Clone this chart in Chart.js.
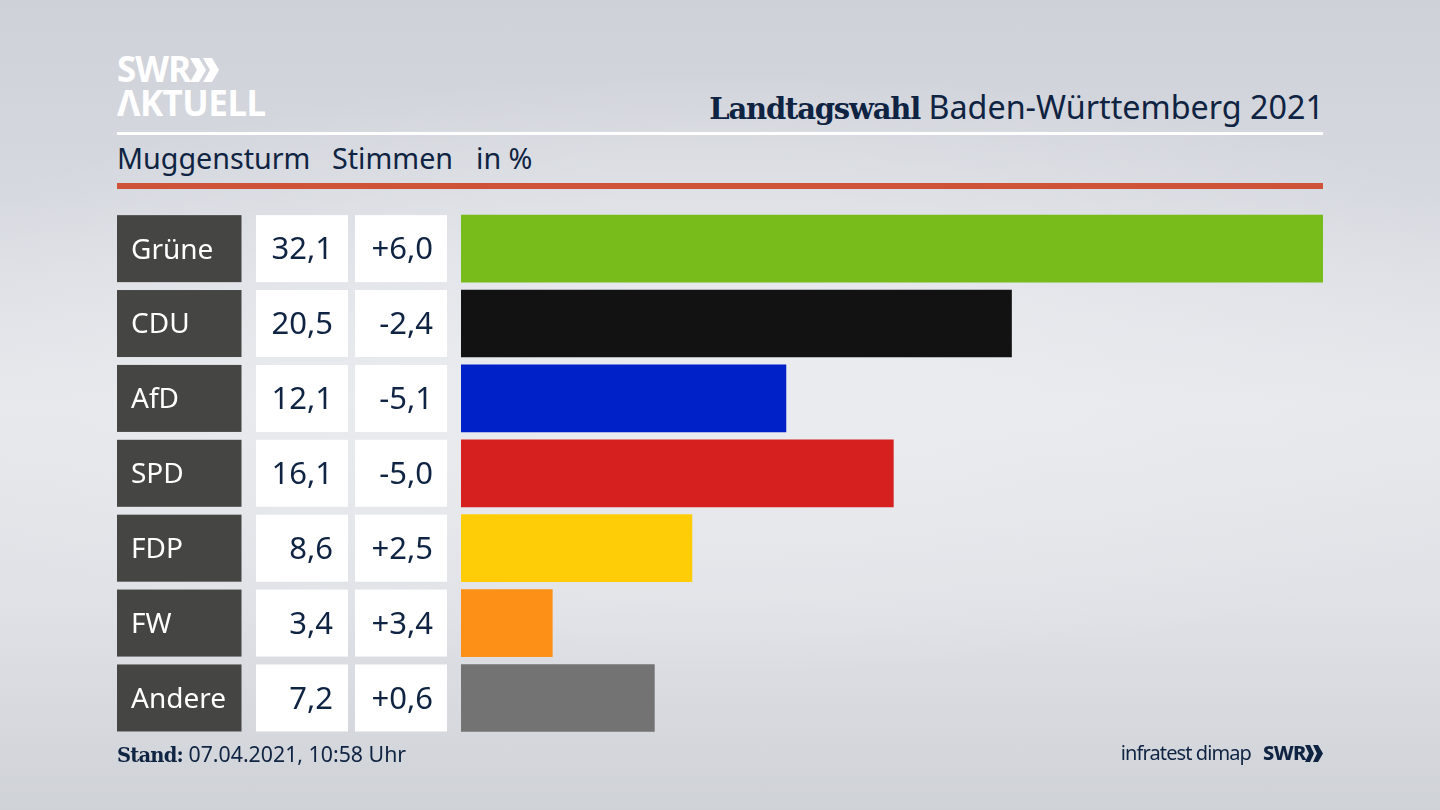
<!DOCTYPE html>
<html lang="de">
<head>
<meta charset="utf-8">
<title>Landtagswahl Baden-Württemberg 2021</title>
<script src="https://cdn.jsdelivr.net/npm/chart.js@4"></script>
<style>
  html, body { margin: 0; padding: 0; }
  body {
    width: 1440px; height: 810px; overflow: hidden; position: relative;
    font-family: "Noto Sans", sans-serif; color: #0f2342;
    background:
      radial-gradient(ellipse 900px 300px at 50% 46%, #eaecf0 0%, rgba(234,236,240,0) 100%),
      linear-gradient(180deg, #ced1d7 0%, #d6d9df 25%, #e6e8ec 50%, #dfe1e6 75%, #cfd2d7 100%);
  }
  #wrap { position: absolute; left: 0; top: 0; width: 1440px; height: 810px; }
  .t { position: absolute; white-space: nowrap; line-height: 1; }
  .rule { position: absolute; left: 117px; width: 1206px; }
  .logo { color: #fff; font-weight: 700; }
</style>
</head>
<body>
<div class="t logo" style="left:117px;top:51px;font-size:35px;letter-spacing:-1px">SWR</div>
<svg style="position:absolute;left:190px;top:57px" width="30" height="26" viewBox="0 0 30 26">
  <path d="M0 1h9l7 12-7 12H0l7-12zM13 1h9l7 12-7 12h-9l7-12z" fill="#fff"/>
</svg>
<div class="t logo" style="left:117px;top:85px;font-size:35px;letter-spacing:-.5px">&#923;KTUELL</div>

<div class="t" style="right:116px;top:90px;font-size:32.300px"><span style="font-family:'DejaVu Serif',serif;font-weight:700;font-size:29px;letter-spacing:-1.200px">Landtagswahl</span> Baden-Württemberg 2021</div>
<div class="rule" style="top:132px;height:3px;background:#fff"></div>
<div class="t" style="left:117px;top:144px;font-size:28.700px">Muggensturm</div>
<div class="t" style="left:332px;top:144px;font-size:28.700px">Stimmen</div>
<div class="t" style="left:476px;top:144px;font-size:28.700px">in %</div>
<div class="rule" style="top:183px;height:6px;background:#cf5339"></div>

<div id="wrap"><canvas id="resultChart" width="1440" height="810"></canvas></div>

<div class="t" style="left:117px;top:743px;font-size:21.300px"><span style="font-family:'DejaVu Serif',serif;font-weight:700;font-size:19.500px;letter-spacing:-.8px">Stand:</span> 07.04.2021, 10:58 Uhr</div>
<div class="t" style="right:189px;top:743px;font-size:20px;letter-spacing:-.9px">infratest dimap</div>
<div class="t" style="left:1263px;top:743px;font-size:20px;font-weight:800;letter-spacing:-.6px">SWR</div>
<svg style="position:absolute;left:1305px;top:745px" width="18" height="17" viewBox="0 0 18 17">
  <path d="M0 0h5l4 8.500-4 8.500H0l4-8.500zM8 0h5l5 8.500-5 8.500H8l4-8.500z" fill="#0f2342"/>
</svg>

<script>
const parties = ["Grüne", "CDU", "AfD", "SPD", "FDP", "FW", "Andere"];
const shares = [32.1, 20.5, 12.1, 16.1, 8.6, 3.4, 7.2];
const changes = ["+6,0", "-2,4", "-5,1", "-5,0", "+2,5", "+3,4", "+0,6"];
const barColors = ["#78bc1b", "#121212", "#0020c8", "#d5201f", "#ffcc08", "#fd9016", "#737373"];

const fmt = v => v.toFixed(1).replace(".", ",");
const rowHeight = 67;

// table cells left of the bars, placed on the chart's own y scale
const tablePlugin = {
  id: "table",
  beforeDatasetsDraw(chart) {
    const { ctx, scales: { y } } = chart;
    ctx.save();
    ctx.textBaseline = "middle";
    parties.forEach((name, i) => {
      const mid = y.getPixelForValue(i);
      const top = mid - rowHeight / 2;
      ctx.fillStyle = "#454543";
      ctx.fillRect(117, top, 124.5, rowHeight);
      ctx.fillStyle = "#fff";
      ctx.fillRect(256, top, 92, rowHeight);
      ctx.fillRect(355, top, 92, rowHeight);

      ctx.textAlign = "left";
      ctx.font = '28px "Noto Sans", sans-serif';
      ctx.fillText(name, 131, mid + 2);
      ctx.font = '31px "Noto Sans", sans-serif';
      ctx.fillStyle = "#0f2342";
      ctx.textAlign = "right";
      ctx.fillText(fmt(shares[i]), 333, mid + 2);
      ctx.fillText(changes[i], 433, mid + 2);
    });
    ctx.restore();
  }
};

new Chart(document.getElementById("resultChart"), {
  type: "bar",
  data: {
    labels: parties,
    datasets: [{
      data: shares,
      backgroundColor: barColors,
      barThickness: rowHeight,
      borderWidth: 0
    }]
  },
  options: {
    indexAxis: "y",
    responsive: false,
    animation: false,
    layout: { padding: { left: 461, right: 117, top: 211.2, bottom: 74.6 } },
    plugins: { legend: { display: false }, tooltip: { enabled: false } },
    scales: {
      x: { display: false, min: 0, max: 32.1 },
      y: { display: false }
    }
  },
  plugins: [tablePlugin]
});
</script>
</body>
</html>
